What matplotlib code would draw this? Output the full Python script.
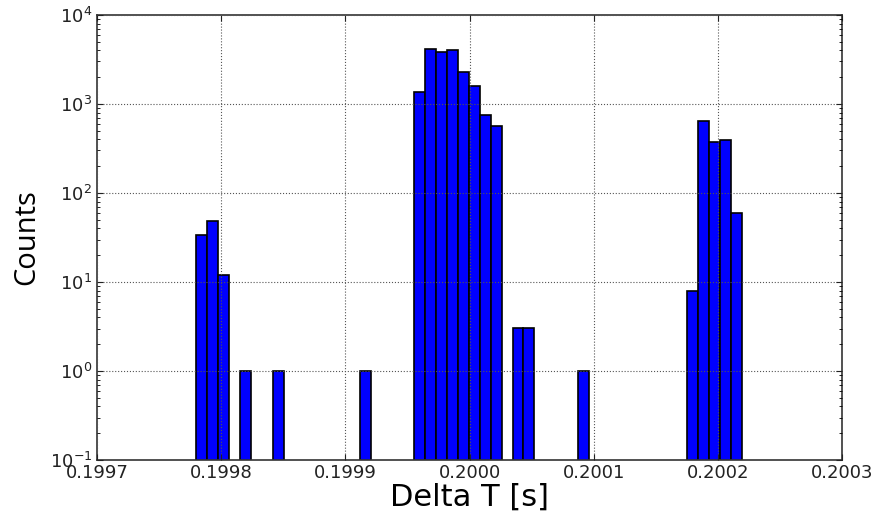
import numpy as np
import matplotlib
matplotlib.use("Agg")
import matplotlib.pyplot as plt
from matplotlib.ticker import FormatStrFormatter, LogLocator

# histogram of time differences between consecutive events
t_lo = 0.19978
t_hi = 0.2002188
n_bins = 50
counts = [34, 49, 12, 0, 1, 0, 0, 1, 0, 0,
          0, 0, 0, 0, 0, 1, 0, 0, 0, 0,
          1350, 4100, 3800, 4000, 2300, 1600, 750, 570, 0, 3,
          3, 0, 0, 0, 0, 1, 0, 0, 0, 0,
          0, 0, 0, 0, 0, 8, 650, 370, 390, 60]
xticks = [0.1997, 0.1998, 0.1999, 0.2000, 0.2001, 0.2002, 0.2003]

plt.rcParams['xtick.direction'] = 'in'
plt.rcParams['ytick.direction'] = 'in'
plt.rcParams['xtick.top'] = True
plt.rcParams['ytick.right'] = True

edges = np.linspace(t_lo, t_hi, n_bins + 1)
width = edges[1] - edges[0]
counts = np.array(counts)
nz = counts > 0

fig = plt.figure(figsize=(8.78, 5.14), dpi=100)
ax = fig.add_axes([0.1105, 0.105, 0.849, 0.866])
ax.bar(edges[:-1][nz], counts[nz], width=width, align='edge', bottom=0.01,
       color='#0000ff', edgecolor='black', linewidth=1.2)
ax.set_yscale('log')
ax.set_ylim(0.1, 1e4)
ax.set_xlim(0.1997, 0.2003)
ax.set_xticks(xticks)
ax.xaxis.set_major_formatter(FormatStrFormatter('%.4f'))
ax.yaxis.set_minor_locator(LogLocator(base=10, subs=np.arange(2, 10)))
ax.tick_params(which='major', length=4, width=0.8, labelsize=13, colors='#222222')
ax.tick_params(which='minor', length=2, width=0.6)
ax.tick_params(axis='x', pad=3)
ax.set_axisbelow(False)
ax.grid(True, which='major', color='#555555', linestyle=':', linewidth=0.8)
for sp in ax.spines.values():
    sp.set_linewidth(1.2)
    sp.set_color('#333333')

ax.set_xlabel('Delta T [s]', fontsize=22, labelpad=0)
ax.set_ylabel('Counts', fontsize=21, family=['Open Sans', 'DejaVu Sans'], labelpad=6)

fig.savefig('out.png', dpi=100)
